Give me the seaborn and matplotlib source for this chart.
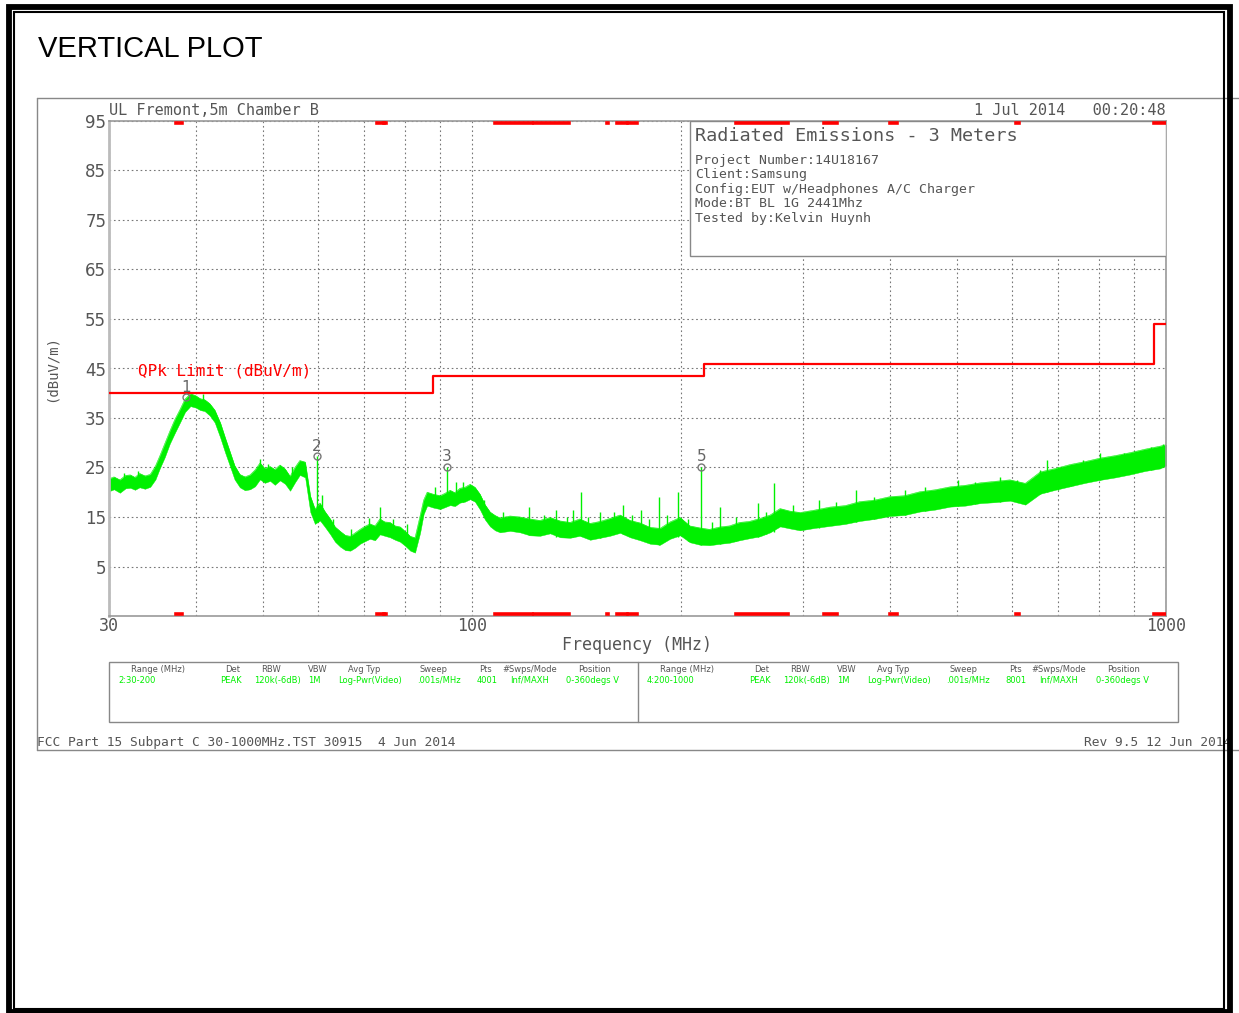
import matplotlib
matplotlib.use('Agg')
import matplotlib.pyplot as plt
import seaborn as sns
from matplotlib.patches import Rectangle
from matplotlib.ticker import NullFormatter

sns.set_style('white')
plt.rcParams['font.family'] = ['DejaVu Sans']

MONO = 'DejaVu Sans Mono'
GREY = '#555555'
GREEN = '#00f000'

# QPk limit (FCC 15.209, 3 m)
limit_mhz = [30, 88, 216, 960, 1000]
limit_db = [40.0, 43.5, 46.0, 54.0, 54.0]

# restricted bands (red marks on top/bottom edge)
band_lo = [37.5, 73.0, 74.8, 108.0, 123.0, 149.9, 156.52475, 156.7, 162.0125, 167.72, 240.0, 322.0, 399.9, 608.0, 960.0]
band_hi = [38.25, 74.6, 75.2, 121.94, 138.0, 150.05, 156.52525, 156.9, 167.17, 173.2, 285.0, 335.4, 410.0, 614.0, 1000.0]

# measured peak trace, read as a noise band (low / high edge)
trace_mhz = [30.0, 30.5, 31.1, 31.7, 32.2, 32.7, 33.2, 33.8, 34.4, 35.0,
             35.5, 36.1, 36.7, 37.3, 38.0, 38.6, 39.3, 40.0, 40.6, 41.2,
             41.9, 42.6, 43.4, 44.1, 44.8, 45.5, 46.3, 47.1, 47.9, 48.7,
             49.5, 50.3, 51.2, 52.0, 52.9, 53.8, 54.7, 55.6, 56.5, 57.5,
             58.5, 59.4, 60.4, 61.4, 62.5, 63.5, 64.6, 65.7, 66.8, 67.9,
             69.0, 70.1, 71.3, 72.5, 73.7, 74.9, 76.2, 77.5, 78.8, 80.1,
             81.5, 82.8, 84.2, 85.2, 86.2, 88.0, 90.0, 91.5, 93.0, 94.5,
             96.1, 97.7, 99.4, 101.0, 102.7, 104.4, 106.2, 108.0, 109.8, 113.5,
             117.3, 121.2, 125.3, 129.6, 134.0, 138.5, 143.0, 148.0, 153.0, 158.0,
             163.5, 169.0, 174.7, 180.6, 186.7, 193.0, 199.5, 206.0, 213.0, 220.0,
             228.0, 235.0, 243.0, 251.0, 260.0, 269.0, 278.0, 287.0, 297.0, 312.0,
             328.0, 345.0, 362.0, 380.0, 400.0, 420.0, 442.0, 465.0, 489.0, 514.0,
             540.0, 568.0, 596.0, 627.0, 659.0, 693.0, 728.0, 765.0, 804.0, 845.0,
             888.0, 933.0, 980.0, 1000.0]
trace_low = [20.2, 20.6, 19.9, 20.8, 20.9, 20.5, 21.0, 20.7, 21.1, 22.6,
             24.8, 27.1, 29.8, 31.9, 34.2, 36.2, 37.4, 37.1, 36.6, 36.4,
             35.5, 34.1, 31.0, 28.0, 25.3, 22.6, 21.0, 20.4, 20.6, 21.2,
             22.6, 21.9, 22.3, 21.5, 22.4, 21.7, 20.3, 22.0, 23.5, 23.0,
             16.0, 13.6, 14.3, 13.0, 11.5, 10.0, 9.0, 8.3, 8.2, 8.8,
             9.6, 10.1, 10.6, 10.3, 11.5, 11.2, 10.9, 10.4, 10.0, 9.2,
             8.2, 7.8, 11.8, 15.6, 17.3, 16.9, 16.6, 17.0, 17.4, 17.2,
             17.9, 18.1, 18.6, 18.1, 16.5, 14.5, 13.1, 12.3, 11.9, 12.2,
             11.9, 11.3, 11.2, 11.7, 10.9, 10.8, 11.2, 10.4, 10.8, 11.2,
             11.8, 10.9, 10.3, 9.6, 9.4, 10.6, 11.3, 9.9, 9.4, 9.3,
             9.6, 9.8, 10.3, 10.7, 11.1, 11.9, 13.1, 12.7, 12.3, 12.8,
             13.2, 13.6, 14.2, 14.6, 15.2, 15.4, 16.1, 16.5, 17.1, 17.3,
             17.8, 18.0, 18.3, 17.5, 19.7, 20.5, 21.2, 21.9, 22.5, 23.0,
             23.6, 24.3, 24.8, 25.4]
trace_high = [22.7, 23.1, 22.5, 23.4, 23.5, 23.0, 23.8, 23.3, 23.6, 25.3,
              27.3, 29.8, 32.3, 34.6, 36.8, 38.8, 39.9, 39.5, 38.9, 38.7,
              37.9, 36.6, 34.0, 31.0, 28.2, 25.4, 23.6, 23.1, 23.5, 24.5,
              25.9, 24.8, 25.2, 24.6, 25.5, 24.7, 23.2, 25.0, 26.4, 26.1,
              19.2, 16.6, 17.8, 16.1, 14.6, 13.0, 12.1, 11.3, 11.1, 11.8,
              12.5, 13.1, 13.6, 13.2, 14.6, 14.0, 13.9, 13.2, 13.0, 12.1,
              11.1, 10.8, 15.2, 18.4, 20.0, 19.6, 19.3, 19.8, 20.4, 19.9,
              20.8, 21.0, 21.6, 21.0, 19.6, 17.5, 16.0, 15.3, 14.8, 15.2,
              15.0, 14.6, 14.3, 14.9, 14.2, 13.9, 14.6, 13.7, 14.1, 14.7,
              15.4, 14.3, 13.8, 12.9, 12.7, 14.0, 14.9, 13.2, 12.8, 12.5,
              13.0, 13.2, 13.9, 14.1, 14.7, 15.4, 16.7, 16.2, 15.9, 16.4,
              17.0, 17.3, 18.1, 18.4, 19.1, 19.3, 20.1, 20.5, 21.1, 21.4,
              21.9, 22.2, 22.5, 21.8, 24.1, 24.8, 25.6, 26.2, 26.9, 27.4,
              28.0, 28.7, 29.3, 29.6]

# narrow spurious spikes above the noise band
spike_mhz = [31.5, 33.0, 41.0, 49.5, 50.8, 55.0, 59.8, 60.8, 63.0, 67.0,
             71.0, 73.7, 77.0, 80.5, 88.5, 92.1, 95.0, 97.0, 104.0, 111.0,
             121.0, 127.0, 132.0, 137.0, 140.0, 143.5, 147.0, 153.0, 160.0, 165.0,
             170.0, 175.0, 180.0, 186.0, 191.0, 198.0, 205.0, 214.0, 222.0, 228.0,
             240.0, 258.0, 265.0, 272.0, 290.0, 316.0, 335.0, 357.0, 380.0, 420.0,
             450.0, 501.0, 530.0, 576.0, 610.0, 659.0, 674.0, 700.0, 730.0, 760.0,
             804.0, 870.0, 950.0, 990.0]
spike_base = [21.5, 21.5, 37.0, 22.6, 22.5, 21.5, 15.0, 14.3, 11.0, 9.0,
              11.0, 11.5, 11.0, 10.0, 17.5, 17.4, 18.5, 18.0, 15.5, 12.5,
              11.3, 11.5, 11.0, 11.0, 11.0, 11.2, 10.8, 10.8, 11.5, 11.5,
              11.0, 10.3, 10.0, 9.4, 10.5, 11.0, 10.2, 9.4, 9.5, 9.6,
              10.2, 11.0, 11.5, 12.0, 12.7, 12.8, 13.5, 14.0, 14.6, 15.4,
              16.3, 17.2, 17.7, 18.0, 18.0, 19.7, 20.0, 20.5, 21.2, 22.0,
              22.5, 23.4, 24.5, 25.0]
spike_top = [23.8, 24.2, 39.8, 26.8, 25.8, 25.0, 27.3, 19.5, 14.5, 12.5,
             14.8, 17.0, 14.5, 13.5, 21.0, 25.1, 22.0, 22.0, 18.5, 16.0,
             17.0, 15.5, 16.5, 15.0, 16.5, 20.0, 15.0, 16.0, 16.0, 17.5,
             15.5, 16.5, 14.5, 19.0, 15.5, 20.0, 14.5, 25.1, 14.0, 17.0,
             15.0, 17.8, 16.0, 21.9, 17.5, 18.4, 18.0, 20.5, 19.0, 20.5,
             21.0, 22.5, 22.0, 23.0, 22.5, 24.5, 26.5, 25.0, 25.3, 26.5,
             28.0, 28.0, 29.2, 29.8]

# markers
marker_id = ['1', '2', '3', '5']
marker_mhz = [38.7, 59.8, 92.1, 214.0]
marker_db = [39.2, 27.3, 25.1, 25.1]

y_ticks = [5, 15, 25, 35, 45, 55, 65, 75, 85, 95]
x_ticks = [30, 100, 1000]
x_grid = [40, 50, 60, 70, 80, 90, 200, 300, 400, 500, 600, 700, 800, 900]

info_title = 'Radiated Emissions - 3 Meters'
info_lines = ['Project Number:14U18167', 'Client:Samsung',
              'Config:EUT w/Headphones A/C Charger', 'Mode:BT BL 1G 2441Mhz',
              'Tested by:Kelvin Huynh']

table_cols = ['Range (MHz)', 'Det', 'RBW', 'VBW', 'Avg Typ', 'Sweep', 'Pts', '#Swps/Mode', 'Position']
table_row1 = ['2:30-200', 'PEAK', '120k(-6dB)', '1M', 'Log-Pwr(Video)', '.001s/MHz', '4001', 'Inf/MAXH', '0-360degs V']
table_row2 = ['4:200-1000', 'PEAK', '120k(-6dB)', '1M', 'Log-Pwr(Video)', '.001s/MHz', '8001', 'Inf/MAXH', '0-360degs V']

W, H = 1239, 1013


def px_box(x0, y0, x1, y1):
    return [x0 / W, 1 - y1 / H, (x1 - x0) / W, (y1 - y0) / H]


fig = plt.figure(figsize=(W / 100, H / 100), dpi=100)
fig.patch.set_facecolor('white')

bg = fig.add_axes([0, 0, 1, 1], zorder=0)
bg.set_xlim(0, W)
bg.set_ylim(H, 0)
bg.axis('off')

ax = fig.add_axes(px_box(109, 121, 1166, 616), zorder=1)
top = fig.add_axes([0, 0, 1, 1], zorder=2)
top.set_xlim(0, W)
top.set_ylim(H, 0)
top.axis('off')

# ---- main plot ----
ax.set_xscale('log')
ax.set_xlim(30, 1000)
ax.set_ylim(-5, 95)
ax.set_xticks(x_ticks)
ax.set_xticklabels([str(v) for v in x_ticks], fontfamily=MONO, fontsize=12, color=GREY)
ax.set_xticks(x_grid, minor=True)
ax.xaxis.set_minor_formatter(NullFormatter())
ax.set_yticks(y_ticks)
ax.set_yticklabels([str(v) for v in y_ticks], fontsize=12, color=GREY)
ax.tick_params(which='both', length=0)
ax.tick_params(axis='x', pad=1)
ax.tick_params(axis='y', pad=2)
ax.grid(which='both', color='#777777', lw=0.8, ls=(0, (1.5, 2.5)))
for side, sp in ax.spines.items():
    sp.set_color('#999999')
    sp.set_linewidth(1.2)
ax.spines['left'].set_color('#bbbbbb')
ax.spines['left'].set_linewidth(2)

ax.fill_between(trace_mhz, trace_low, trace_high, color=GREEN, lw=0.3, zorder=2)
sns.lineplot(x=trace_mhz, y=trace_high, color=GREEN, lw=0.4, estimator=None, ax=ax, zorder=2)
ax.vlines(spike_mhz, spike_base, spike_top, color=GREEN, lw=1.0, zorder=2)

sns.lineplot(x=limit_mhz, y=limit_db, color='red', lw=1.6, drawstyle='steps-post',
             estimator=None, ax=ax, zorder=3)

ax.add_patch(Rectangle((0.5497, 0.727), 0.4503, 0.273, transform=ax.transAxes,
                       facecolor='white', edgecolor='#888888', lw=1, zorder=3))

for lo, hi in zip(band_lo, band_hi):
    ax.hlines([94.65, -4.65], lo, hi, color='red', lw=2.6, capstyle='projecting', zorder=4)

ax.plot(marker_mhz, marker_db, ls='none', marker='o', ms=5, mfc='none', mec='#777777',
        mew=1, zorder=5)
for mid, f, db in zip(marker_id, marker_mhz, marker_db):
    ax.annotate(mid, (f, db), xytext=(0, 4), textcoords='offset points', ha='center',
                va='baseline', fontsize=11, color='#666666', zorder=5)

# ---- page furniture ----
frame_kw = dict(color='#888888', lw=1)
bg.plot([37, W], [98, 98], **frame_kw)
bg.plot([37, 37], [98, 750], **frame_kw)
bg.plot([37, W], [750, 750], **frame_kw)

bg.add_patch(Rectangle((109, 662), 1178 - 109, 722 - 662, fill=False, ec='#888888', lw=1))
bg.plot([638, 638], [662, 722], **frame_kw)

head_x = [158, 233, 271, 318, 364, 434, 486, 530, 595]
val_x = [118, 231, 277, 314, 370, 439, 487, 530, 593]
for off, row in [(0, table_row1), (529, table_row2)]:
    for i, (hd, v) in enumerate(zip(table_cols, row)):
        top.text(head_x[i] + off, 669, hd, ha='center', va='center', fontsize=6, color=GREY)
        if i == 0:
            top.text(val_x[i] + off, 680, v, ha='left', va='center', fontsize=6, color=GREEN)
        else:
            top.text(val_x[i] + off, 680, v, ha='center', va='center', fontsize=6, color=GREEN)

top.text(38, 49, 'VERTICAL PLOT', fontfamily='Liberation Sans', fontsize=21, color='black',
         ha='left', va='center')
top.text(109, 110, 'UL Fremont,5m Chamber B', fontfamily=MONO, fontsize=11, color=GREY,
         ha='left', va='center')
top.text(1166, 110, '1 Jul 2014   00:20:48', fontfamily=MONO, fontsize=11, color=GREY,
         ha='right', va='center')
top.text(695, 136, info_title, fontfamily=MONO, fontsize=13.3, color=GREY, ha='left', va='center')
for i, line in enumerate(info_lines):
    top.text(695, 160 + i * 14.5, line, fontfamily=MONO, fontsize=9.5, color=GREY,
             ha='left', va='center')
top.text(138, 371, 'QPk Limit (dBuV/m)', fontfamily=MONO, fontsize=11.5, color='red',
         ha='left', va='center')
top.text(637, 645, 'Frequency (MHz)', fontfamily=MONO, fontsize=12, color=GREY,
         ha='center', va='center')
top.text(52, 368, '(dBuV/m)', fontfamily=MONO, fontsize=10, color=GREY, rotation=90,
         ha='center', va='center')
top.text(37, 742, 'FCC Part 15 Subpart C 30-1000MHz.TST 30915  4 Jun 2014', fontfamily=MONO,
         fontsize=9.3, color=GREY, ha='left', va='center')
top.text(1084, 742, 'Rev 9.5 12 Jun 2014', fontfamily=MONO, fontsize=9.3, color=GREY,
         ha='left', va='center')

# black double border
top.add_patch(Rectangle((9, 6.5), 1229.5 - 9, 1011.5 - 6.5, fill=False, ec='black', lw=4.2,
                        zorder=10))
top.add_patch(Rectangle((14, 12), 1224 - 14, 1008.5 - 12, fill=False, ec='black', lw=1.5,
                        zorder=10))

fig.savefig('out.png', dpi=100, facecolor='white')
